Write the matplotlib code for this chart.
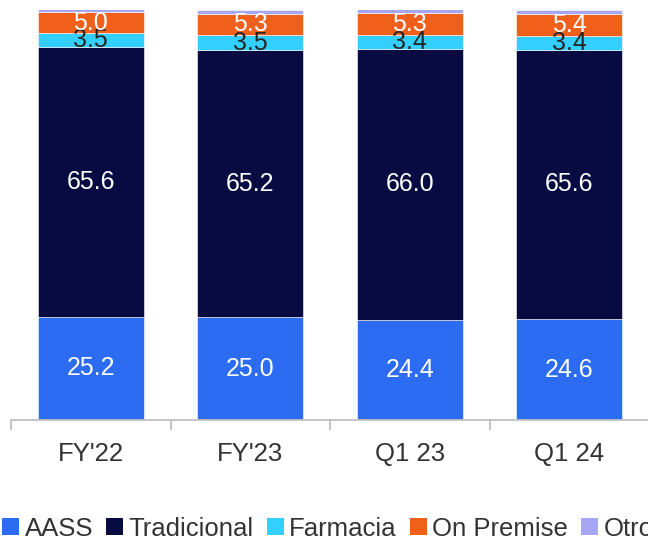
import matplotlib
matplotlib.use("Agg")
import matplotlib.pyplot as plt
from matplotlib.patches import Patch
import numpy as np

plt.rcParams['font.family'] = ['Liberation Sans', 'DejaVu Sans']

categories = ["FY'22", "FY'23", "Q1 23", "Q1 24"]
aass = [25.2, 25.0, 24.4, 24.6]
tradicional = [65.6, 65.2, 66.0, 65.6]
farmacia = [3.5, 3.5, 3.4, 3.4]
on_premise = [5.0, 5.3, 5.3, 5.4]
otros = [0.7, 1.0, 0.9, 1.0]

series = [
    ("AASS", aass, "#2B6CF2", "white"),
    ("Tradicional", tradicional, "#070B41", "white"),
    ("Farmacia", farmacia, "#33CFFF", "#262626"),
    ("On Premise", on_premise, "#F0601A", "white"),
    ("Otros", otros, "#A6A6F2", None),
]

W, H = 648, 542
fig = plt.figure(figsize=(W / 100, H / 100), dpi=100)
ax = fig.add_axes([11 / W, (H - 420) / H, 638 / W, 410.5 / H])

x = np.arange(len(categories))
bottom = np.zeros(len(categories))
for name, vals, color, tcolor in series:
    vals = np.array(vals)
    ax.bar(x, vals, width=0.665, bottom=bottom, color=color,
           edgecolor="white", linewidth=0.4, label=name)
    if tcolor is not None:
        for xi, b, v in zip(x, bottom, vals):
            ax.text(xi, b + v / 2, f"{v:.1f}", ha="center", va="center",
                    color=tcolor, fontsize=18)
    bottom += vals

ax.set_xlim(-0.5, 3.5)
ax.set_ylim(0, 100)
for s in ["top", "right", "left"]:
    ax.spines[s].set_visible(False)
ax.spines["bottom"].set_color("#BFBFBF")
ax.spines["bottom"].set_linewidth(1.3)
ax.set_yticks([])
ax.set_xticks(x)
ax.set_xticklabels(categories, fontsize=18.5, color="#333333")
ax.tick_params(axis="x", which="major", length=0, pad=16)
ax.set_xticks(np.arange(-0.5, 4.0, 1.0), minor=True)
ax.tick_params(axis="x", which="minor", length=7, width=1.3, color="#BFBFBF",
               direction="out")

handles = [Patch(facecolor=c, edgecolor="none") for _, _, c, _ in series]
labels = [n for n, _, _, _ in series]
fig.legend(handles, labels, loc="center left",
           bbox_to_anchor=(2 / W, (H - 528.5) / H), ncol=5, frameon=False,
           fontsize=18.5, handlelength=0.68, handleheight=0.68,
           handletextpad=0.2, columnspacing=0.5, borderpad=0,
           borderaxespad=0, labelcolor="#333333")

fig.savefig("out.png", dpi=100)
